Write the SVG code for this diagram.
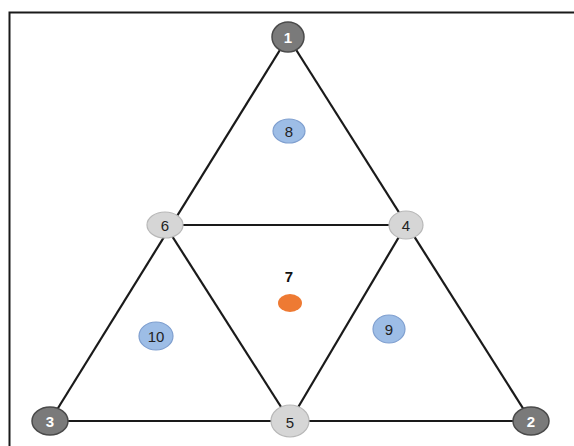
<svg xmlns="http://www.w3.org/2000/svg" width="574" height="446" viewBox="0 0 574 446">
<style>
.edge{stroke:#1a1a1a;stroke-width:2.2;fill:none}
.dark{fill:#7a7a7a;stroke:#4a4a4a;stroke-width:1.5}
.light{fill:#d6d6d6;stroke:#b8b8b8;stroke-width:1.2}
.blue{fill:#9dbde6;stroke:#7f9fcf;stroke-width:1.2}
.t{font-family:"Liberation Sans",Arial,sans-serif;font-size:15px;text-anchor:middle;dominant-baseline:central}
.tw{fill:#ffffff;font-weight:bold}
.tk{fill:#222222}
</style>
<rect x="9.5" y="12.5" width="570" height="440" fill="#ffffff" stroke="#1a1a1a" stroke-width="2"/>
<g id="connectors">
<line class="edge" x1="288" y1="37" x2="50" y2="421"/>
<line class="edge" x1="288" y1="37" x2="531" y2="421"/>
<line class="edge" x1="50" y1="421" x2="531" y2="421"/>
<line class="edge" x1="165" y1="225" x2="406" y2="225"/>
<line class="edge" x1="165" y1="225" x2="290" y2="421"/>
<line class="edge" x1="406" y1="225" x2="290" y2="421"/>
</g>
<g id="n1"><ellipse class="dark" cx="288" cy="37" rx="16" ry="15"/><text class="t tw" x="288" y="37">1</text></g>
<g id="n2"><ellipse class="dark" cx="531" cy="421" rx="18" ry="14"/><text class="t tw" x="531" y="421">2</text></g>
<g id="n3"><ellipse class="dark" cx="50" cy="421" rx="18" ry="14"/><text class="t tw" x="50" y="421">3</text></g>
<g id="n4"><ellipse class="light" cx="406" cy="225" rx="17" ry="14"/><text class="t tk" x="406" y="225">4</text></g>
<g id="n5"><ellipse class="light" cx="290" cy="421" rx="19" ry="16"/><text class="t tk" x="290" y="422">5</text></g>
<g id="n6"><ellipse class="light" cx="165" cy="225" rx="18" ry="13"/><text class="t tk" x="165" y="225">6</text></g>
<g id="n7"><text class="t" x="289" y="276" fill="#111" font-weight="bold">7</text><ellipse cx="290" cy="303" rx="12" ry="9" fill="#ee7a33"/></g>
<g id="n8"><ellipse class="blue" cx="289" cy="131" rx="16" ry="12"/><text class="t tk" x="289" y="131">8</text></g>
<g id="n9"><ellipse class="blue" cx="389" cy="329" rx="16" ry="14"/><text class="t tk" x="389" y="329">9</text></g>
<g id="n10"><ellipse class="blue" cx="156" cy="336" rx="17" ry="14"/><text class="t tk" x="156" y="336" font-size="10">10</text></g>
</svg>
